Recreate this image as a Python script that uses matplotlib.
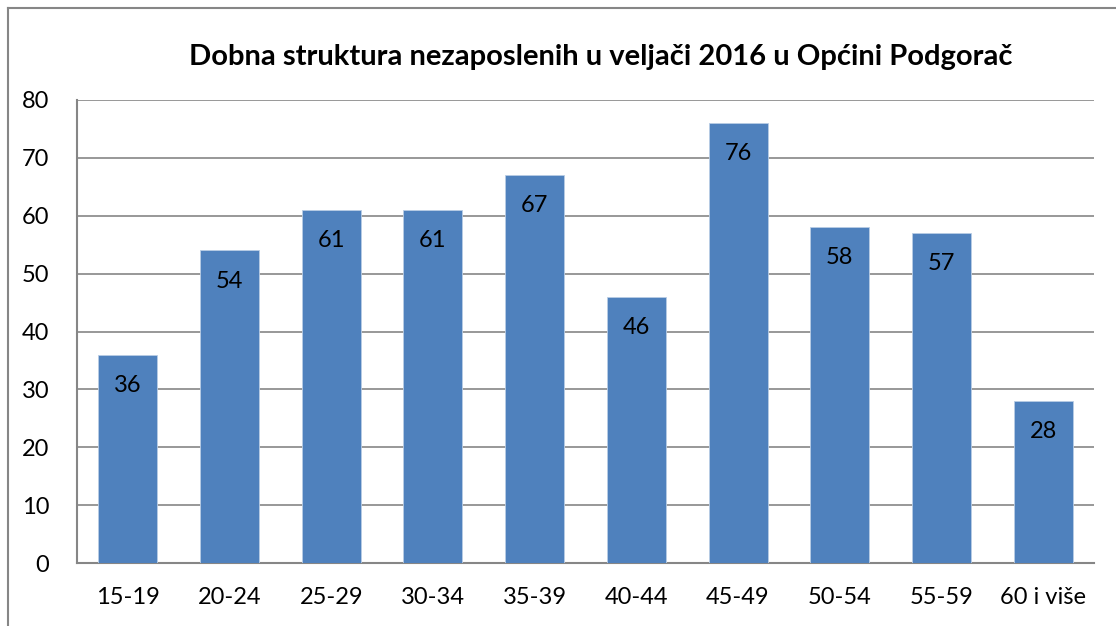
import matplotlib
matplotlib.use("Agg")
import matplotlib.pyplot as plt
from matplotlib.lines import Line2D

categories = ["15-19", "20-24", "25-29", "30-34", "35-39", "40-44", "45-49", "50-54", "55-59", "60 i više"]
values = [36, 54, 61, 61, 67, 46, 76, 58, 57, 28]
yticks = [0, 10, 20, 30, 40, 50, 60, 70, 80]
title = "Dobna struktura nezaposlenih u veljači 2016 u Općini Podgorač"

plt.rcParams['font.family'] = ['Lato', 'DejaVu Sans']

fig = plt.figure(figsize=(11.16, 6.26), dpi=100)
ax = fig.add_axes([77/1116, 1-563/626, (1094-77)/1116, (563-100)/626])

grid_c = "#868686"
x = range(len(categories))
bars = ax.bar(x, values, width=0.58, color="#4F81BD", edgecolor="#B9CDE5", linewidth=0.6, zorder=3)
ax.set_xlim(-0.5, len(categories) - 0.5)
ax.set_ylim(0, 80)
ax.set_yticks(yticks)
ax.set_xticks(list(x))
ax.set_xticklabels(categories)
ax.yaxis.grid(True, color=grid_c, linewidth=1.2, zorder=0)
ax.tick_params(axis='both', length=0, labelsize=17, colors="black")
ax.tick_params(axis='y', pad=20)
ax.tick_params(axis='x', pad=17)
for s in ["top", "right"]:
    ax.spines[s].set_visible(False)
for s in ["left", "bottom"]:
    ax.spines[s].set_color(grid_c)
    ax.spines[s].set_linewidth(1.5)

for b, v in zip(bars, values):
    ax.annotate(str(v), (b.get_x() + b.get_width() / 2, v), xytext=(0, -22),
                textcoords="offset points", ha="center", va="center", fontsize=17, zorder=4)

fig.text(0.538, 0.909, title, ha="center", va="center", fontsize=21, fontweight="bold")

fig.add_artist(Line2D([8/1116, 8/1116], [0, 1-8/626], transform=fig.transFigure, color=grid_c, linewidth=1.5))
fig.add_artist(Line2D([8/1116, 1], [1-8/626, 1-8/626], transform=fig.transFigure, color=grid_c, linewidth=1.5))

fig.savefig("out.png", dpi=100)
